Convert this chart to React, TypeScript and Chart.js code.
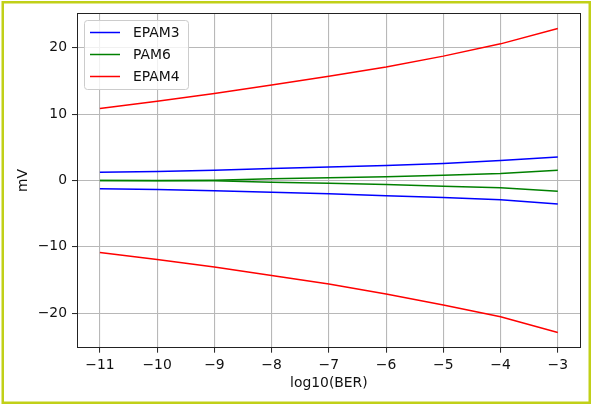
import React, { useEffect, useRef } from 'react';
import { Chart, registerables } from 'chart.js';

Chart.register(...registerables);

const berLog = [-11, -10, -9, -8, -7, -6, -5, -4, -3];
const epam3Upper = [1.25, 1.35, 1.55, 1.8, 2.05, 2.25, 2.55, 3.0, 3.55];
const epam3Lower = [-1.25, -1.35, -1.55, -1.75, -2.0, -2.3, -2.55, -2.9, -3.55];
const pam6Upper = [0, 0.02, 0.05, 0.25, 0.4, 0.55, 0.8, 1.05, 1.55];
const pam6Lower = [0, -0.02, -0.05, -0.25, -0.4, -0.6, -0.85, -1.1, -1.6];
const epam4Upper = [10.85, 11.95, 13.1, 14.4, 15.7, 17.1, 18.75, 20.6, 22.9];
const epam4Lower = [-10.85, -11.9, -13.05, -14.3, -15.6, -17.1, -18.75, -20.55, -22.9];
const xTicks = [-11, -10, -9, -8, -7, -6, -5, -4, -3];
const yTicks = [-20, -10, 0, 10, 20];
const legendItems = [
  { label: 'EPAM3', color: '#0000ff' },
  { label: 'PAM6', color: '#008000' },
  { label: 'EPAM4', color: '#ff0000' },
];

const FONT = 'DejaVu Sans';
const fmt = (v: number) => (v < 0 ? '\u2212' : '') + Math.abs(v);

const toPts = (arr: number[]) => berLog.map((x, i) => ({ x, y: arr[i] }));

const framePlugin = {
  id: 'frame',
  beforeDraw(chart: any) {
    const ctx = chart.ctx;
    ctx.save();
    ctx.fillStyle = '#ffffff';
    ctx.fillRect(0, 0, chart.width, chart.height);
    ctx.restore();
  },
  afterDatasetsDraw(chart: any) {
    const ctx = chart.ctx;
    const a = chart.chartArea;
    ctx.save();
    ctx.strokeStyle = '#222222';
    ctx.lineWidth = 1;
    ctx.strokeRect(Math.round(a.left) + 0.5, Math.round(a.top) + 0.5, Math.round(a.right - a.left) - 1, Math.round(a.bottom - a.top));
    const bx = 84.5, by = 20.5, bw = 104, bh = 69;
    ctx.beginPath();
    (ctx as any).roundRect(bx, by, bw, bh, 3);
    ctx.fillStyle = 'rgba(255,255,255,0.8)';
    ctx.fill();
    ctx.strokeStyle = '#cccccc';
    ctx.stroke();
    ctx.font = `13.9px "${FONT}"`;
    ctx.textBaseline = 'middle';
    ctx.textAlign = 'left';
    legendItems.forEach((it, i) => {
      const y = 32.5 + i * 22;
      ctx.beginPath();
      ctx.strokeStyle = it.color;
      ctx.lineWidth = 1.5;
      ctx.moveTo(90, y);
      ctx.lineTo(120, y);
      ctx.stroke();
      ctx.fillStyle = '#111111';
      ctx.fillText(it.label, 133, y + 0.5);
    });
    ctx.restore();
  },
  afterDraw(chart: any) {
    const ctx = chart.ctx;
    ctx.save();
    ctx.strokeStyle = 'rgb(193,208,24)';
    ctx.lineWidth = 2.5;
    ctx.strokeRect(2.75, 2.25, 587, 400.5);
    ctx.restore();
  },
};

export default function App() {
  const ref = useRef<HTMLCanvasElement | null>(null);
  useEffect(() => {
    document.body.style.margin = '0';
    if (!ref.current) return;
    const mk = (label: string, data: number[], color: string) => ({
      label,
      data: toPts(data),
      borderColor: color,
      backgroundColor: color,
      borderWidth: 1.5,
      pointRadius: 0,
      tension: 0,
      fill: false,
    });
    const tickFont = { family: FONT, size: 13.9 };
    const grid = { color: '#b8b8b8', lineWidth: 1.1, tickLength: 5, tickColor: '#222222', tickWidth: 1, drawTicks: true };
    const chart = new Chart(ref.current, {
      type: 'line',
      data: {
        datasets: [
          mk('EPAM3', epam3Upper, '#0000ff'),
          mk('EPAM3 lower', epam3Lower, '#0000ff'),
          mk('PAM6', pam6Upper, '#008000'),
          mk('PAM6 lower', pam6Lower, '#008000'),
          mk('EPAM4', epam4Upper, '#ff0000'),
          mk('EPAM4 lower', epam4Lower, '#ff0000'),
        ],
      },
      options: {
        animation: false,
        responsive: false,
        devicePixelRatio: 1,
        layout: { padding: { left: 0, top: 12.5, right: 12.3, bottom: 0 } },
        plugins: { legend: { display: false }, tooltip: { enabled: false } },
        scales: {
          x: {
            type: 'linear',
            min: -11.4,
            max: -2.6,
            afterBuildTicks: (s: any) => { s.ticks = xTicks.map((v) => ({ value: v })); },
            afterFit: (s: any) => { s.height = 58.3; },
            grid,
            border: { display: false },
            ticks: { font: tickFont, color: '#111111', padding: 4, maxRotation: 0, autoSkip: false, callback: (v: any) => fmt(Number(v)) },
            title: { display: true, text: 'log10(BER)', font: tickFont, color: '#111111', padding: { top: 0, bottom: 14 } },
          },
          y: {
            type: 'linear',
            min: -25.2,
            max: 25.2,
            afterBuildTicks: (s: any) => { s.ticks = yTicks.map((v) => ({ value: v })); },
            afterFit: (s: any) => { s.width = 77; },
            grid,
            border: { display: false },
            ticks: { font: tickFont, color: '#111111', padding: 5, autoSkip: false, callback: (v: any) => fmt(Number(v)) },
            title: { display: true, text: 'mV', font: tickFont, color: '#111111', padding: { top: 14.7, bottom: 0 } },
          },
        },
      },
      plugins: [framePlugin],
    } as any);
    return () => chart.destroy();
  }, []);
  return <canvas ref={ref} width={593} height={406} style={{ display: 'block', width: 593, height: 406 }} />;
}
